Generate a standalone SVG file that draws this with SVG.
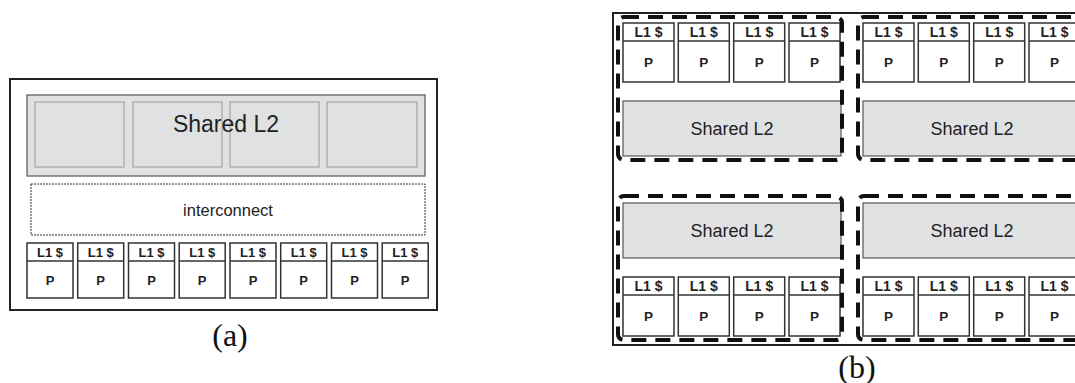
<svg xmlns="http://www.w3.org/2000/svg" width="1075" height="383" viewBox="0 0 1075 383">
<style>
.outer{fill:#fff;stroke:#222;stroke-width:2}
.l2{fill:#e0e1e3;stroke:#555;stroke-width:1.2}
.bank{fill:#e0e1e3;stroke:#9a9a9a;stroke-width:1}
.ic{fill:#fff;stroke:#333;stroke-width:1;stroke-dasharray:2 1}
.pbox{fill:#fff;stroke:#333;stroke-width:1.5}
.div{stroke:#333;stroke-width:1.5}
.grp{fill:none;stroke:#111;stroke-width:4;stroke-dasharray:15 9}
.t{font-family:"Liberation Sans",Arial,sans-serif;fill:#222;text-anchor:middle}
.ts{font-family:"Liberation Sans",Arial,sans-serif;fill:#222;text-anchor:middle;font-weight:bold}
.cap{font-family:"Liberation Serif","Times New Roman",serif;fill:#111;text-anchor:middle;font-size:32px}
</style>
<defs>
<g id="pa">
<rect class="pbox" x="0" y="0" width="46" height="55"/>
<line class="div" x1="0" y1="18" x2="46" y2="18"/>
<text class="ts" x="23" y="14" font-size="13">L1 $</text>
<text class="ts" x="23" y="42" font-size="13">P</text>
</g>
<g id="pb">
<rect class="pbox" x="0" y="0" width="51" height="59"/>
<line class="div" x1="0" y1="18" x2="51" y2="18"/>
<text class="ts" x="25.5" y="14" font-size="14">L1 $</text>
<text class="ts" x="25.5" y="44" font-size="13.5">P</text>
</g>
</defs>

<g id="diagram-a">
<rect id="a-chip" class="outer" x="10" y="79" width="427" height="231"/>
<g id="a-shared-l2">
<rect class="l2" x="27" y="95" width="398" height="81"/>
<rect class="bank" x="35" y="102" width="89" height="65"/>
<rect class="bank" x="133" y="102" width="89" height="65"/>
<rect class="bank" x="230" y="102" width="89" height="65"/>
<rect class="bank" x="327" y="102" width="90" height="65"/>
<text class="t" x="226" y="132" font-size="23">Shared L2</text>
</g>
<g id="a-interconnect">
<rect class="ic" x="31" y="184" width="394" height="51"/>
<text class="t" x="228" y="216" font-size="16.5">interconnect</text>
</g>
<g id="a-procs">
<use href="#pa" x="27" y="243"/>
<use href="#pa" x="77.7" y="243"/>
<use href="#pa" x="128.5" y="243"/>
<use href="#pa" x="179.2" y="243"/>
<use href="#pa" x="230" y="243"/>
<use href="#pa" x="280.7" y="243"/>
<use href="#pa" x="331.5" y="243"/>
<use href="#pa" x="382.2" y="243"/>
</g>
<text id="a-label" class="cap" x="230" y="346">(a)</text>
</g>

<g id="diagram-b">
<rect id="b-chip" class="outer" x="613" y="13" width="480" height="332"/>
<g id="b-tl">
<use href="#pb" x="623" y="23"/>
<use href="#pb" x="678.3" y="23"/>
<use href="#pb" x="733.7" y="23"/>
<use href="#pb" x="789" y="23"/>
<rect class="l2" x="623" y="101" width="218" height="55"/>
<text class="t" x="732" y="135" font-size="18">Shared L2</text>
</g>
<g id="b-tr">
<use href="#pb" x="863" y="23"/>
<use href="#pb" x="918.3" y="23"/>
<use href="#pb" x="973.7" y="23"/>
<use href="#pb" x="1029" y="23"/>
<rect class="l2" x="863" y="101" width="218" height="55"/>
<text class="t" x="972" y="135" font-size="18">Shared L2</text>
</g>
<g id="b-bl">
<rect class="l2" x="623" y="203" width="218" height="55"/>
<text class="t" x="732" y="237" font-size="18">Shared L2</text>
<use href="#pb" x="623" y="277"/>
<use href="#pb" x="678.3" y="277"/>
<use href="#pb" x="733.7" y="277"/>
<use href="#pb" x="789" y="277"/>
</g>
<g id="b-br">
<rect class="l2" x="863" y="203" width="218" height="55"/>
<text class="t" x="972" y="237" font-size="18">Shared L2</text>
<use href="#pb" x="863" y="277"/>
<use href="#pb" x="918.3" y="277"/>
<use href="#pb" x="973.7" y="277"/>
<use href="#pb" x="1029" y="277"/>
</g>
<g id="b-groups">
<rect class="grp" x="618" y="17" width="224" height="143" rx="6"/>
<rect class="grp" x="858" y="17" width="224" height="143" rx="6"/>
<rect class="grp" x="618" y="196" width="224" height="144" rx="6"/>
<rect class="grp" x="858" y="196" width="224" height="144" rx="6"/>
</g>
<text id="b-label" class="cap" x="857" y="378">(b)</text>
</g>
</svg>
